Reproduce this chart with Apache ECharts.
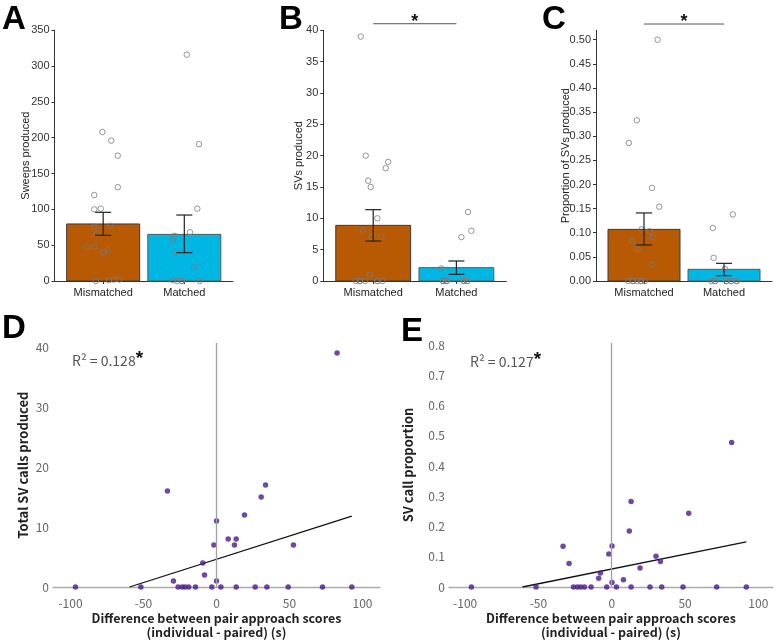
<!DOCTYPE html>
<html><head><meta charset="utf-8">
<script src="https://cdn.jsdelivr.net/npm/echarts@6/dist/echarts.min.js"></script>
<style>html,body{margin:0;padding:0;background:#fff}#c{width:777px;height:640px}</style>
</head><body><div id="c"></div>
<script>
// ---------- data ----------
const groups = ['Mismatched', 'Matched'];

// Panel A: Sweeps produced
const aMeans = [79.6, 65.1];
const aErrLow = [63.8, 39.6];
const aErrHigh = [95.9, 92.1];
const aMisY = [208,196,175,131,120,100,101,76,77,66,47,48,43,40,0,1,2,2];
const aMisX = [0.99,1.10,1.18,1.18,0.89,0.89,0.97,0.89,1.09,0.92,0.80,0.89,1.05,1.01,0.91,1.07,1.13,1.20];
const aMatY = [316,191,101,68,63,57,40,19,1,0,0,0,0];
const aMatX = [2.03,2.18,2.16,2.07,1.88,1.86,1.89,2.12,1.86,1.91,1.97,2.19,1.97];

// Panel B: SVs produced
const bMeans = [8.88, 2.13];
const bErrLow = [6.38, 1.06];
const bErrHigh = [11.38, 3.19];
const bMisY = [39,20,19,18,16,15,10,8,7,7,1,0,0,0,0,0,0,0];
const bMisX = [0.85,0.91,1.18,1.15,0.94,0.97,1.05,0.88,0.98,1.10,0.96,0.79,0.84,0.90,1.05,1.11,0.84,1.05];
const bMatY = [11,8,7,2,0,0,0,0,0,0,0,0,0];
const bMatX = [2.14,2.18,2.06,1.82,1.84,1.88,2.09,2.13,1.84,1.88,2.09,2.13,1.88];
const bSig = 41.05;

// Panel C: Proportion of SVs produced
const cMeans = [0.107, 0.0242];
const cErrLow = [0.0746, 0.011];
const cErrHigh = [0.141, 0.0366];
const cMisY = [0.5,0.333,0.286,0.193,0.154,0.107,0.103,0.091,0.083,0.066,0.034,0,0,0,0,0,0,0];
const cMisX = [1.17,0.91,0.81,1.10,1.19,0.97,1.07,1.11,0.85,0.92,1.10,0.80,0.86,0.91,0.96,1.01,0.86,0.96];
const cMatY = [0.138,0.110,0.048,0.025,0,0,0,0,0,0,0,0,0];
const cMatX = [2.11,1.86,1.87,2.01,1.84,1.89,2.03,2.09,2.16,1.89,2.03,2.09,2.16];
const cSig = 0.5325;

// Panel D: total SV calls vs difference score
const dX = [-96.6,-51.8,-33.6,-29.5,-26.3,-23.5,-21.5,-19.0,-14.4,-9.4,-8.2,-3.2,-1.8,0,0,3.0,8.0,12.3,13.5,13.5,19.2,26.5,30.6,33.6,34.5,49.1,52.7,72.6,82.6,92.7];
const dY = [0,0,16,1,0,0,0,0,0,4,2,0,7,11,1,0,8,7,8,0,12,0,15,17,0,0,7,0,39,0];
const dSlope = 0.0777, dIntercept = 4.63;

// Panel E: SV call proportion vs difference score
const eX = [-95.7,-51.6,-33.2,-29.1,-26.1,-23.4,-21.1,-18.6,-14.1,-8.9,-7.7,-3.4,-2.0,0.2,0.2,3.2,8.0,12.0,13.2,13.2,19.3,26.1,30.2,33.2,34.1,48.6,52.5,71.6,81.8,91.8];
const eY = [0,0,0.135,0.078,0,0,0,0,0,0.029,0.046,0,0.109,0.136,0.015,0,0.024,0.185,0.283,0,0.063,0,0.102,0.084,0,0,0.244,0,0.478,0];
const eSlope = 0.000977, eIntercept = 0.0595;

const xTicksDE = [-100,-50,0,50,100];
const dYTicks = [0,10,20,30,40];
const eYTicks = [0,0.1,0.2,0.3,0.4,0.5,0.6,0.7,0.8];
const cYTicks = [0,0.05,0.1,0.15,0.2,0.25,0.3,0.35,0.4,0.45,0.5];

// ---------- styles ----------
const barFill = ['#B85A04', '#00B7E4'];
const barStroke = ['#3a3a3a', '#5a5a5a'];
const sans = "'Liberation Sans', Arial, sans-serif";
const jp = "'Noto Sans CJK JP', sans-serif";
const dotColor = '#4B1C8A';

const chart = echarts.init(document.getElementById('c'), null, {renderer: 'canvas'});

function barRender(params, api) {
  const x = api.value(0), y = api.value(1);
  const p0 = api.coord([x - 0.45, y]);
  const p1 = api.coord([x + 0.45, 0]);
  return {type: 'rect', shape: {x: p0[0], y: p0[1], width: p1[0] - p0[0], height: p1[1] - p0[1]},
    style: {fill: barFill[params.dataIndex], stroke: barStroke[params.dataIndex], lineWidth: 1}};
}
function errRender(params, api) {
  const x = api.value(0), lo = api.value(1), hi = api.value(2);
  const a = api.coord([x, hi]), b = api.coord([x, lo]);
  const w = 8, st = {stroke: '#222', lineWidth: 1.2};
  return {type: 'group', children: [
    {type: 'line', shape: {x1: a[0], y1: a[1], x2: b[0], y2: b[1]}, style: st},
    {type: 'line', shape: {x1: a[0] - w, y1: a[1], x2: a[0] + w, y2: a[1]}, style: st},
    {type: 'line', shape: {x1: b[0] - w, y1: b[1], x2: b[0] + w, y2: b[1]}, style: st}
  ]};
}
function sigRender(params, api) {
  const a = api.coord([api.value(0), api.value(2)]);
  const b = api.coord([api.value(1), api.value(2)]);
  return {type: 'group', children: [
    {type: 'line', shape: {x1: a[0], y1: a[1], x2: b[0], y2: b[1]}, style: {stroke: '#555', lineWidth: 1}},
    {type: 'text', style: {text: '*', x: (a[0] + b[0]) / 2, y: a[1] - 2, align: 'center', verticalAlign: 'middle',
      fontSize: 18, fontWeight: 'bold', fill: '#111', fontFamily: sans}}
  ]};
}

const barGrids = [
  {left: 54.5, top: 30.3, width: 178.5, height: 250.7},
  {left: 323.3, top: 30.3, width: 183, height: 250.7},
  {left: 596, top: 30.3, width: 176, height: 250.7}
];
const scGrids = [
  {left: 53, top: 343, width: 327, height: 244},
  {left: 449, top: 343, width: 324, height: 244}
];
const grid = barGrids.concat(scGrids).map(g => Object.assign({containLabel: false, outerBoundsMode: 'none'}, g));

function barX(i) {
  return {type: 'value', gridIndex: i, min: 0.4, max: 2.6, splitLine: {show: false},
    axisLine: {show: true, lineStyle: {color: '#333', width: 1}},
    axisTick: {show: true, length: 3, customValues: [1, 2], lineStyle: {color: '#333'}},
    axisLabel: {customValues: [1, 2], formatter: v => groups[Math.round(v) - 1], color: '#222', fontSize: 11, fontFamily: sans, margin: 6}};
}
function barY(i, name, max, opt) {
  return Object.assign({type: 'value', gridIndex: i, min: 0, max: max, name: name, nameLocation: 'middle',
    nameMoveOverlap: false,
    nameTextStyle: {color: '#222', fontSize: 11, fontFamily: sans}, splitLine: {show: false},
    axisLine: {show: true, lineStyle: {color: '#333', width: 1}},
    axisTick: {show: true, length: 3, lineStyle: {color: '#333'}},
    axisLabel: {color: '#333', fontSize: 11, fontFamily: sans, margin: 5}}, opt);
}

const xAxis = [
  barX(0), barX(1), barX(2),
  {type: 'value', gridIndex: 3, min: -112, max: 112, splitLine: {show: false},
    name: 'Difference between pair approach scores\n(individual - paired) (s)', nameLocation: 'middle', nameGap: 24,
    nameMoveOverlap: false,
    nameTextStyle: {color: '#222', fontSize: 12.5, fontWeight: 'bold', fontFamily: jp, lineHeight: 14},
    axisLine: {show: true, lineStyle: {color: '#aaa', width: 1.3}}, axisTick: {show: false},
    axisLabel: {customValues: xTicksDE, color: '#666', fontSize: 12, fontFamily: jp, margin: 10}},
  {type: 'value', gridIndex: 4, min: -111, max: 110, splitLine: {show: false},
    name: 'Difference between pair approach scores\n(individual - paired) (s)', nameLocation: 'middle', nameGap: 24,
    nameMoveOverlap: false,
    nameTextStyle: {color: '#222', fontSize: 12.5, fontWeight: 'bold', fontFamily: jp, lineHeight: 14},
    axisLine: {show: true, lineStyle: {color: '#aaa', width: 1.3}}, axisTick: {show: false},
    axisLabel: {customValues: xTicksDE, color: '#666', fontSize: 12, fontFamily: jp, margin: 10}}
];

const yAxis = [
  barY(0, 'Sweeps produced', 350, {interval: 50, nameGap: 23}),
  barY(1, 'SVs produced', 40, {interval: 5, nameGap: 19}),
  barY(2, 'Proportion of SVs produced', 0.5195, {nameGap: 25,
    axisTick: {show: true, length: 3, customValues: cYTicks, lineStyle: {color: '#333'}},
    axisLabel: {customValues: cYTicks, formatter: v => v.toFixed(2), color: '#333', fontSize: 11, fontFamily: sans, margin: 5}}),
  {type: 'value', gridIndex: 3, min: 0, max: 40.67, splitLine: {show: false},
    name: 'Total SV calls produced', nameLocation: 'middle', nameGap: 23, nameMoveOverlap: false,
    nameTextStyle: {color: '#222', fontSize: 13, fontWeight: 'bold', fontFamily: jp},
    axisLine: {show: false}, axisTick: {show: false},
    axisLabel: {customValues: dYTicks, color: '#666', fontSize: 12, fontFamily: jp, margin: 4}},
  {type: 'value', gridIndex: 4, min: 0, max: 0.807, splitLine: {show: false},
    name: 'SV call proportion', nameLocation: 'middle', nameGap: 34, nameMoveOverlap: false,
    nameTextStyle: {color: '#222', fontSize: 13, fontWeight: 'bold', fontFamily: jp},
    axisLine: {show: false}, axisTick: {show: false},
    axisLabel: {customValues: eYTicks, formatter: v => v === 0 ? '0' : v.toFixed(1), color: '#666', fontSize: 12, fontFamily: jp, margin: 4}}
];

function pts(mx, my, tx, ty) {
  return mx.map((x, i) => [x, my[i]]).concat(tx.map((x, i) => [x, ty[i]]));
}
function barSeries(i, means, lo, hi, px, sig) {
  const s = [
    {type: 'custom', xAxisIndex: i, yAxisIndex: i, renderItem: barRender, z: 1,
      encode: {x: 0, y: 1}, data: means.map((m, k) => [k + 1, m])},
    {type: 'scatter', xAxisIndex: i, yAxisIndex: i, z: 3, symbol: 'circle', symbolSize: 5.5,
      itemStyle: {color: 'rgba(0,0,0,0)', borderColor: '#7a7a7a', borderWidth: 1}, data: px},
    {type: 'custom', xAxisIndex: i, yAxisIndex: i, renderItem: errRender, z: 4,
      encode: {x: 0, y: [1, 2]}, data: means.map((m, k) => [k + 1, lo[k], hi[k]])}
  ];
  if (sig != null) {
    s.push({type: 'custom', xAxisIndex: i, yAxisIndex: i, renderItem: sigRender, clip: false, z: 5,
      encode: {x: [0, 1], y: 2}, data: [[1, 2, sig]]});
  }
  return s;
}
function fitLine(slope, intercept, xs) {
  const x0 = -intercept / slope;
  const x1 = Math.max.apply(null, xs);
  return [[x0, 0], [x1, intercept + slope * x1]];
}
function scSeries(i, xs, ys, slope, intercept) {
  return [
    {type: 'line', xAxisIndex: i, yAxisIndex: i, data: [], z: 1,
      markLine: {silent: true, symbol: 'none', label: {show: false}, animation: false,
        lineStyle: {color: '#a0a0a0', width: 1.3, type: 'solid'}, data: [{xAxis: 0}]}},
    {type: 'line', xAxisIndex: i, yAxisIndex: i, z: 2, showSymbol: false, symbol: 'none',
      lineStyle: {color: '#111', width: 1.3}, data: fitLine(slope, intercept, xs)},
    {type: 'scatter', xAxisIndex: i, yAxisIndex: i, z: 3, symbolSize: 5.5,
      itemStyle: {color: dotColor}, data: xs.map((x, k) => [x, ys[k]])}
  ];
}

const series = [].concat(
  barSeries(0, aMeans, aErrLow, aErrHigh, pts(aMisX, aMisY, aMatX, aMatY), null),
  barSeries(1, bMeans, bErrLow, bErrHigh, pts(bMisX, bMisY, bMatX, bMatY), bSig),
  barSeries(2, cMeans, cErrLow, cErrHigh, pts(cMisX, cMisY, cMatX, cMatY), cSig),
  scSeries(3, dX, dY, dSlope, dIntercept),
  scSeries(4, eX, eY, eSlope, eIntercept)
);

function letter(t, x, y) {
  return {type: 'text', x: x, y: y, style: {text: t, fontSize: 33, fontWeight: 'bold', fill: '#000', fontFamily: sans, verticalAlign: 'top'}};
}
function r2(t, x, y) {
  return {type: 'text', x: x, y: y, style: {
    text: '{t|R² = ' + t + '}{b|*}', verticalAlign: 'middle',
    rich: {t: {fontSize: 14, fill: '#555', fontFamily: jp},
           b: {fontSize: 19, fontWeight: 'bold', fill: '#111', fontFamily: sans, padding: [0, 0, 4, 0]}}}};
}

chart.setOption({
  animation: false,
  grid: grid,
  xAxis: xAxis,
  yAxis: yAxis,
  series: series,
  graphic: [
    letter('A', 2, 3), letter('B', 279, 3), letter('C', 542, 3),
    letter('D', 2, 312), letter('E', 401, 315),
    r2('0.128', 72, 361), r2('0.127', 470, 362)
  ]
});
</script></body></html>
